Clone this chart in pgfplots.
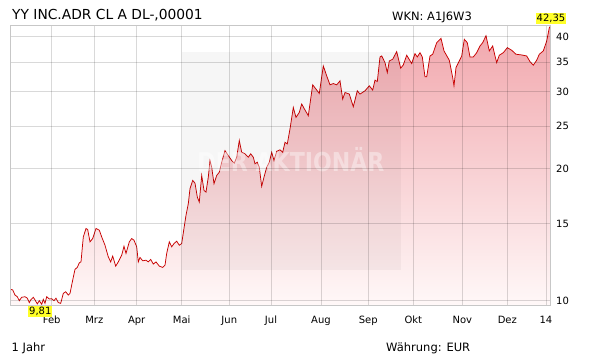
\documentclass[border=0pt]{standalone}
\usepackage{graphicx}
\usepackage{pgfplots}
\pgfplotsset{compat=1.18}
\usepackage{pgfplotstable}
\usepackage{fontspec}
\setmainfont{DejaVu Sans}
\definecolor{linered}{RGB}{200,0,0}
\definecolor{filltop}{RGB}{241,166,172}
\definecolor{fillbot}{RGB}{255,248,248}
\definecolor{hl}{RGB}{255,255,40}
\pgfplotstableread{
x v
10.7 10.61
12.7 10.58
15 10.30
17.3 10.21
19.3 10.00
21.7 10.18
25 10.21
27.3 10.13
29.3 9.90
30.7 10.04
33.3 10.18
35 10.04
37.3 9.83
39.3 10.00
41.7 9.81
43.3 10.07
45 9.86
46.7 10.21
49.3 10.09
51.7 10.10
54 10.00
56 10.13
58.3 9.90
60.7 9.86
63.3 10.39
65.7 10.48
68.3 10.30
70 10.39
72.7 11.14
75 11.79
77.3 11.91
79.3 12.20
81 12.26
83.3 13.98
86 14.61
87.7 14.53
90 13.62
92.7 13.86
96 14.61
99.3 14.48
101.7 13.98
105 13.38
108.3 12.59
110.7 12.26
112.7 12.64
115.7 11.99
118.3 12.26
121.7 12.70
124 13.31
126 12.82
129.3 13.62
131.7 13.86
134 13.74
136.7 13.27
138.3 12.26
140 12.55
142.7 12.33
146 12.37
148.3 12.26
150.7 12.42
153.3 12.12
156 12.26
159.3 11.99
162.7 11.91
165 12.05
166.7 12.82
169.3 13.62
171.7 13.27
174 13.50
176.7 13.67
179.3 13.38
181.7 13.50
184 14.63
186 15.66
188.3 16.65
190 18.01
192.7 18.81
195 18.54
197.3 17.24
199.3 16.79
201.7 19.31
204 17.85
206 17.69
208.3 19.14
210 20.88
211.7 20.16
214 18.49
216.7 19.31
219.3 19.64
221.7 20.70
225 22.00
228.3 21.44
231.7 20.88
234.3 20.59
236.7 21.25
239.3 23.19
241.7 21.81
245 21.63
248.3 21.25
250.7 21.63
253.3 21.25
255 20.53
257.3 20.70
259.3 20.16
261.7 18.23
264 19.14
266.7 20.16
269.3 20.70
271.7 21.81
274 20.88
276.7 21.92
280 22.09
282.7 21.81
285 22.98
287.3 22.79
290 24.65
293.3 27.60
296 26.19
299.3 26.89
301.7 28.10
305 27.23
308.3 26.43
312.7 31.08
316 30.39
319.3 29.70
323.3 34.33
326.7 32.58
330 31.08
333.3 31.29
336.7 31.08
340 31.74
342.7 28.84
345 29.85
349.3 29.61
353.3 27.70
357.3 30.12
360 29.61
365 30.12
369.3 30.92
372.7 30.23
375 31.86
377.3 31.62
380 35.98
381.7 36.17
385 34.93
387.3 33.15
389.3 35.24
392.7 35.56
396.7 37.00
400.7 33.92
403.3 34.51
406.7 36.31
411.7 34.75
415 36.61
417.3 35.98
420 36.80
422.3 35.98
425 32.41
426.7 32.41
430 36.17
432.7 36.50
436.7 38.79
441 39.69
444 37.14
449.3 35.37
452.7 32.29
454 30.92
456 34.03
459.3 35.24
461.7 36.17
464.3 39.48
467.3 38.79
470 35.98
473.3 35.98
476.7 36.80
480 38.12
482.7 38.79
486 40.23
489.3 37.14
492.7 38.12
495 36.17
496.7 34.93
499.3 36.31
503.3 36.80
507.3 37.78
511.7 37.27
516 36.50
521.7 36.36
526.7 36.17
530 35.11
533.3 34.46
536.7 35.37
539.3 36.50
543.3 37.14
546.7 39.13
549.3 41.95
550.7 42.35
}\pricedata
\begin{document}
\begin{tikzpicture}
\path[use as bounding box] (0,0) rectangle (611bp,-364bp);
\begin{axis}[
  at={(10.7bp,-305.3bp)}, anchor=south west,
  scale only axis, width=540bp, height=279.6bp,
  xmin=10.7, xmax=550.7,
  ymode=log, ymin=9.76, ymax=42.4,
  log origin y=infty,
  axis on top,
  xtick={51.7,94.3,136.7,181.7,229.3,271,321,368.3,413.3,462.3,507.3,546},
  xticklabels={Feb,Mrz,Apr,Mai,Jun,Jul,Aug,Sep,Okt,Nov,Dez,14},
  ytick={10,15,20,25,30,35,40},
  yticklabels={10,15,20,25,30,35,40},
  yticklabel pos=right,
  major tick length=0pt,
  tick style={draw=none},
  grid=major,
  major grid style={draw=black, draw opacity=0.15, line width=0.75bp},
  axis line style={draw=black!22, line width=0.75bp},
  tick label style={font=\fontsize{10bp}{12bp}\selectfont, text=black},
  yticklabel style={anchor=west, xshift=2bp},
  xticklabel style={anchor=north, yshift=-7.5bp},
]
\addplot[draw=none, top color=filltop, bottom color=fillbot, forget plot] table[x=x, y=v] {\pricedata} \closedcycle;
\addplot[linered, line width=0.75bp, mark=none] table[x=x, y=v] {\pricedata};
\fill[black, fill opacity=0.035] (rel axis cs:0.3172,0.126) rectangle (rel axis cs:0.7228,0.906);
\node[text=white, text opacity=0.4, font=\bfseries\fontsize{26bp}{28bp}\selectfont] at (rel axis cs:0.519,0.52) {\scalebox{0.85}[1]{DER AKTIONÄR}};
\end{axis}
\node[anchor=base west, inner sep=0pt, font=\fontsize{13.8bp}{15bp}\selectfont] at (12bp,-19.5bp) {YY INC.ADR CL A DL-,00001};
\node[anchor=base west, inner sep=0pt, font=\fontsize{11.5bp}{13bp}\selectfont] at (392bp,-20.5bp) {WKN: A1J6W3};
\node[anchor=base west, inner sep=0pt, font=\fontsize{11.5bp}{13bp}\selectfont] at (11.5bp,-351.5bp) {1 Jahr};
\node[anchor=base west, inner sep=0pt, font=\fontsize{11.5bp}{13bp}\selectfont] at (386bp,-351.5bp) {Währung: EUR};
\node[fill=hl, inner xsep=1bp, inner ysep=1bp, font=\fontsize{10bp}{12bp}\selectfont] at (551bp,-18.5bp) {42,35};
\node[fill=hl, inner xsep=1bp, inner ysep=1bp, font=\fontsize{10bp}{12bp}\selectfont] at (40.3bp,-311.5bp) {9,81};
\end{tikzpicture}
\end{document}
